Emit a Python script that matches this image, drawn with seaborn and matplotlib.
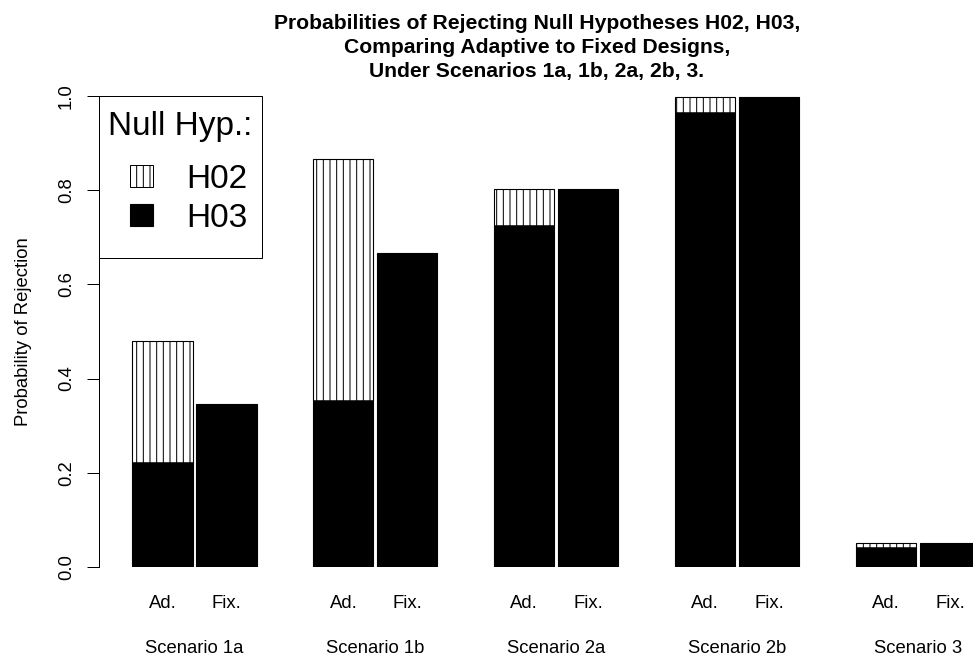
import matplotlib
matplotlib.use("Agg")
import matplotlib.pyplot as plt
import seaborn as sns
import pandas as pd
from matplotlib.patches import Patch, Rectangle

# ---- data ----
scenarios = ["Scenario 1a", "Scenario 1b", "Scenario 2a", "Scenario 2b", "Scenario 3"]
designs = ["Ad.", "Fix."]
ad_total = [0.480, 0.866, 0.802, 0.998, 0.052]   # H02 + H03 (adaptive)
ad_h03 = [0.223, 0.354, 0.726, 0.966, 0.043]     # H03 only (adaptive)
fix_h03 = [0.346, 0.667, 0.802, 0.998, 0.052]    # fixed design
yticks = [0.0, 0.2, 0.4, 0.6, 0.8, 1.0]
ytick_labels = ["0.0", "0.2", "0.4", "0.6", "0.8", "1.0"]
legend_title = "Null Hyp.:"
legend_labels = ["H02", "H03"]
title = ("Probabilities of Rejecting Null Hypotheses H02, H03,\n"
         "Comparing Adaptive to Fixed Designs,\n"
         "Under Scenarios 1a, 1b, 2a, 2b, 3.")

sns.set_theme(style="ticks")
plt.rcParams['font.family'] = ['Liberation Sans', 'DejaVu Sans']
plt.rcParams['hatch.linewidth'] = 0.9
plt.rcParams['hatch.color'] = 'black'
for k in ('text.color', 'axes.labelcolor', 'xtick.color', 'ytick.color', 'axes.edgecolor'):
    plt.rcParams[k] = 'black'

DPI = 80
W, H = 973, 655
fig = plt.figure(figsize=(W / DPI, H / DPI), dpi=DPI)
AX_L, AX_W = 99, W - 99
ax = fig.add_axes([AX_L / W, 88 / H, AX_W / W, 471 / H])

FS = 16.6
BAR_W = 0.708
GAP = 0.062

df_total = pd.DataFrame({
    "scenario": scenarios * 2,
    "design": ["Ad."] * len(scenarios) + ["Fix."] * len(scenarios),
    "prob": ad_total + fix_h03,
})
df_h03 = pd.DataFrame({
    "scenario": scenarios * 2,
    "design": ["Ad."] * len(scenarios) + ["Fix."] * len(scenarios),
    "prob": ad_h03 + fix_h03,
})

sns.barplot(data=df_total, x="scenario", y="prob", hue="design", hue_order=designs,
            order=scenarios, palette={"Ad.": "white", "Fix.": "black"},
            width=BAR_W, gap=GAP, edgecolor="black", linewidth=1.0,
            errorbar=None, legend=False, saturation=1, ax=ax)
for bar in ax.containers[0]:
    bar.set_hatch("||")

sns.barplot(data=df_h03, x="scenario", y="prob", hue="design", hue_order=designs,
            order=scenarios, palette={"Ad.": "black", "Fix.": "black"},
            width=BAR_W, gap=GAP, edgecolor="black", linewidth=0.5,
            errorbar=None, legend=False, saturation=1, ax=ax)

ax.set_xlim(-0.528, 4.304)
ax.set_ylim(0, 1)

# x-axis labels: scenario (major) and design (minor)
n = len(scenarios)
ax.set_xticks(range(n))
ax.set_xticklabels(scenarios)
off = BAR_W / 4
minor_pos = [i + d for i in range(n) for d in (-off, off)]
ax.set_xticks(minor_pos, minor=True)
ax.set_xticklabels(designs * n, minor=True)
ax.tick_params(axis='x', which='both', length=0, labelsize=FS, colors='black')
ax.tick_params(axis='x', which='major', pad=65.4)
ax.tick_params(axis='x', which='minor', pad=25.4)
ax.set_xlabel("")

ax.set_yticks(yticks)
ax.set_yticklabels(ytick_labels, rotation=90, va='center')
ax.tick_params(axis='y', length=10.8, width=0.9, color='black', direction='out',
               pad=10.8, labelsize=FS, labelcolor='black', left=True)
ax.set_ylabel("Probability of Rejection", fontsize=FS, color='black')
ax.yaxis.set_label_coords(-0.0765, 0.5)

for s in ("top", "right", "bottom"):
    ax.spines[s].set_visible(False)
ax.spines["left"].set_color("black")
ax.spines["left"].set_linewidth(0.9)
ax.spines["left"].set_bounds(0, 1)

# legend box (R-style frame), title and entries
frame = Rectangle((0, (567 - 258) / 471), (262 - AX_L) / AX_W, (258 - 96) / 471,
                  transform=ax.transAxes, facecolor="white", edgecolor="black",
                  linewidth=0.9, zorder=4, clip_on=False)
ax.add_patch(frame)
ax.text((180 - AX_L) / AX_W, (567 - 126) / 471, legend_title, transform=ax.transAxes,
        ha="center", va="center", fontsize=30, color="black", zorder=5)

handles = [Patch(facecolor="white", edgecolor="black", hatch="||", linewidth=0.9),
           Patch(facecolor="black", edgecolor="black")]
leg = ax.legend(handles, legend_labels, loc="center left",
                bbox_to_anchor=((130 - AX_L) / AX_W, (567 - 199) / 471),
                borderaxespad=0, fontsize=30,
                frameon=False, handlelength=0.70, handleheight=0.63,
                handletextpad=1.0, labelspacing=0.24, borderpad=0)
leg.set_zorder(5)

fig.text(537 / W, 1 - 47.5 / H, title, ha="center", va="center",
         fontsize=19.0, fontweight="bold", linespacing=1.33, color="black")

fig.savefig("out.png", dpi=DPI)
